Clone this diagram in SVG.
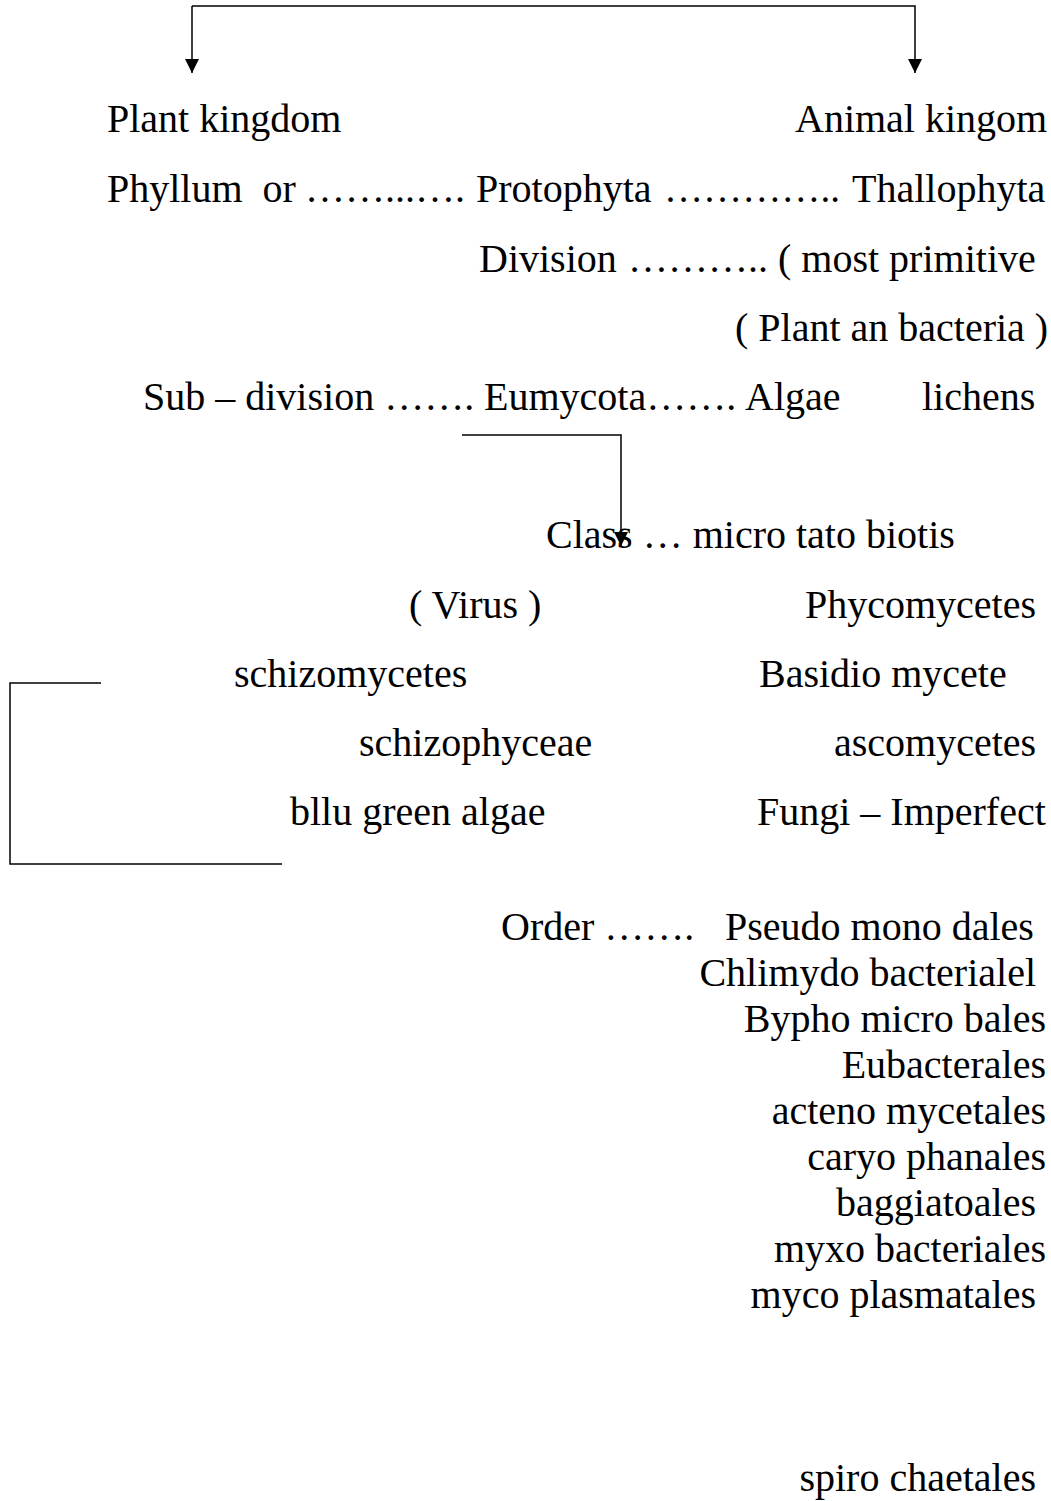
<svg xmlns="http://www.w3.org/2000/svg" width="1051" height="1501" viewBox="0 0 1051 1501">
<style>
text{font-family:"Liberation Serif","Times New Roman",serif;font-size:40px;fill:#000}
.e{text-anchor:end}
.ln{fill:none;stroke:#000;stroke-width:1.5}
</style>
<defs>
<marker id="ah" markerWidth="16" markerHeight="16" refX="14" refY="7" orient="auto" markerUnits="userSpaceOnUse">
<path d="M0,0 L14,7 L0,14 Z" fill="#000"/>
</marker>
</defs>
<rect width="1051" height="1501" fill="#fff"/>
<g id="connectors">
<path class="ln" d="M192,6 H915 V73" marker-end="url(#ah)"/>
<path class="ln" d="M192,6 V73" marker-end="url(#ah)"/>
<path class="ln" d="M462,435 H621 V546" marker-end="url(#ah)"/>
<path class="ln" d="M101,683 H10 V864 H282"/>
</g>
<g id="plant-kingdom"><text x="107" y="132">Plant kingdom</text></g>
<g id="animal-kingdom"><text x="795" y="132">Animal kingom</text></g>
<g id="phyllum">
<text x="107" y="202" xml:space="preserve">Phyllum  or</text>
<text x="305" y="202" textLength="160" lengthAdjust="spacingAndGlyphs">……...….</text>
<text x="476" y="202">Protophyta</text>
<text x="664" y="202" textLength="176" lengthAdjust="spacingAndGlyphs">…………..</text>
<text x="852" y="202">Thallophyta</text>
</g>
<g id="division">
<text x="479" y="272">Division</text>
<text x="628" y="272" textLength="140" lengthAdjust="spacingAndGlyphs">………..</text>
<text x="778" y="272">( most primitive</text>
</g>
<g id="plant-an-bacteria"><text x="735" y="341">( Plant an bacteria )</text></g>
<g id="sub-division">
<text x="143" y="410">Sub – division …….</text>
<text x="484" y="410">Eumycota…….</text>
<text x="745" y="410">Algae</text>
<text x="922" y="410">lichens</text>
</g>
<g id="class"><text x="546" y="548">Class … micro tato biotis</text></g>
<g id="virus"><text x="409" y="618">( Virus )</text></g>
<g id="phycomycetes"><text x="805" y="618">Phycomycetes</text></g>
<g id="schizomycetes"><text x="234" y="687">schizomycetes</text></g>
<g id="basidio"><text x="759" y="687">Basidio mycete</text></g>
<g id="schizophyceae"><text x="359" y="756">schizophyceae</text></g>
<g id="ascomycetes"><text x="834" y="756">ascomycetes</text></g>
<g id="bllu"><text x="290" y="825">bllu green algae</text></g>
<g id="fungi"><text x="757" y="825">Fungi – Imperfect</text></g>
<g id="order">
<text x="501" y="940">Order …….</text>
<text x="725" y="940">Pseudo mono dales</text>
</g>
<g id="orders">
<text class="e" x="1036" y="986">Chlimydo bacterialel</text>
<text class="e" x="1046" y="1032">Bypho micro bales</text>
<text class="e" x="1046" y="1078">Eubacterales</text>
<text class="e" x="1046" y="1124">acteno mycetales</text>
<text class="e" x="1046" y="1170">caryo phanales</text>
<text class="e" x="1036" y="1216">baggiatoales</text>
<text class="e" x="1046" y="1262">myxo bacteriales</text>
<text class="e" x="1036" y="1308">myco plasmatales</text>
<text class="e" x="1036" y="1491">spiro chaetales</text>
</g>
</svg>
